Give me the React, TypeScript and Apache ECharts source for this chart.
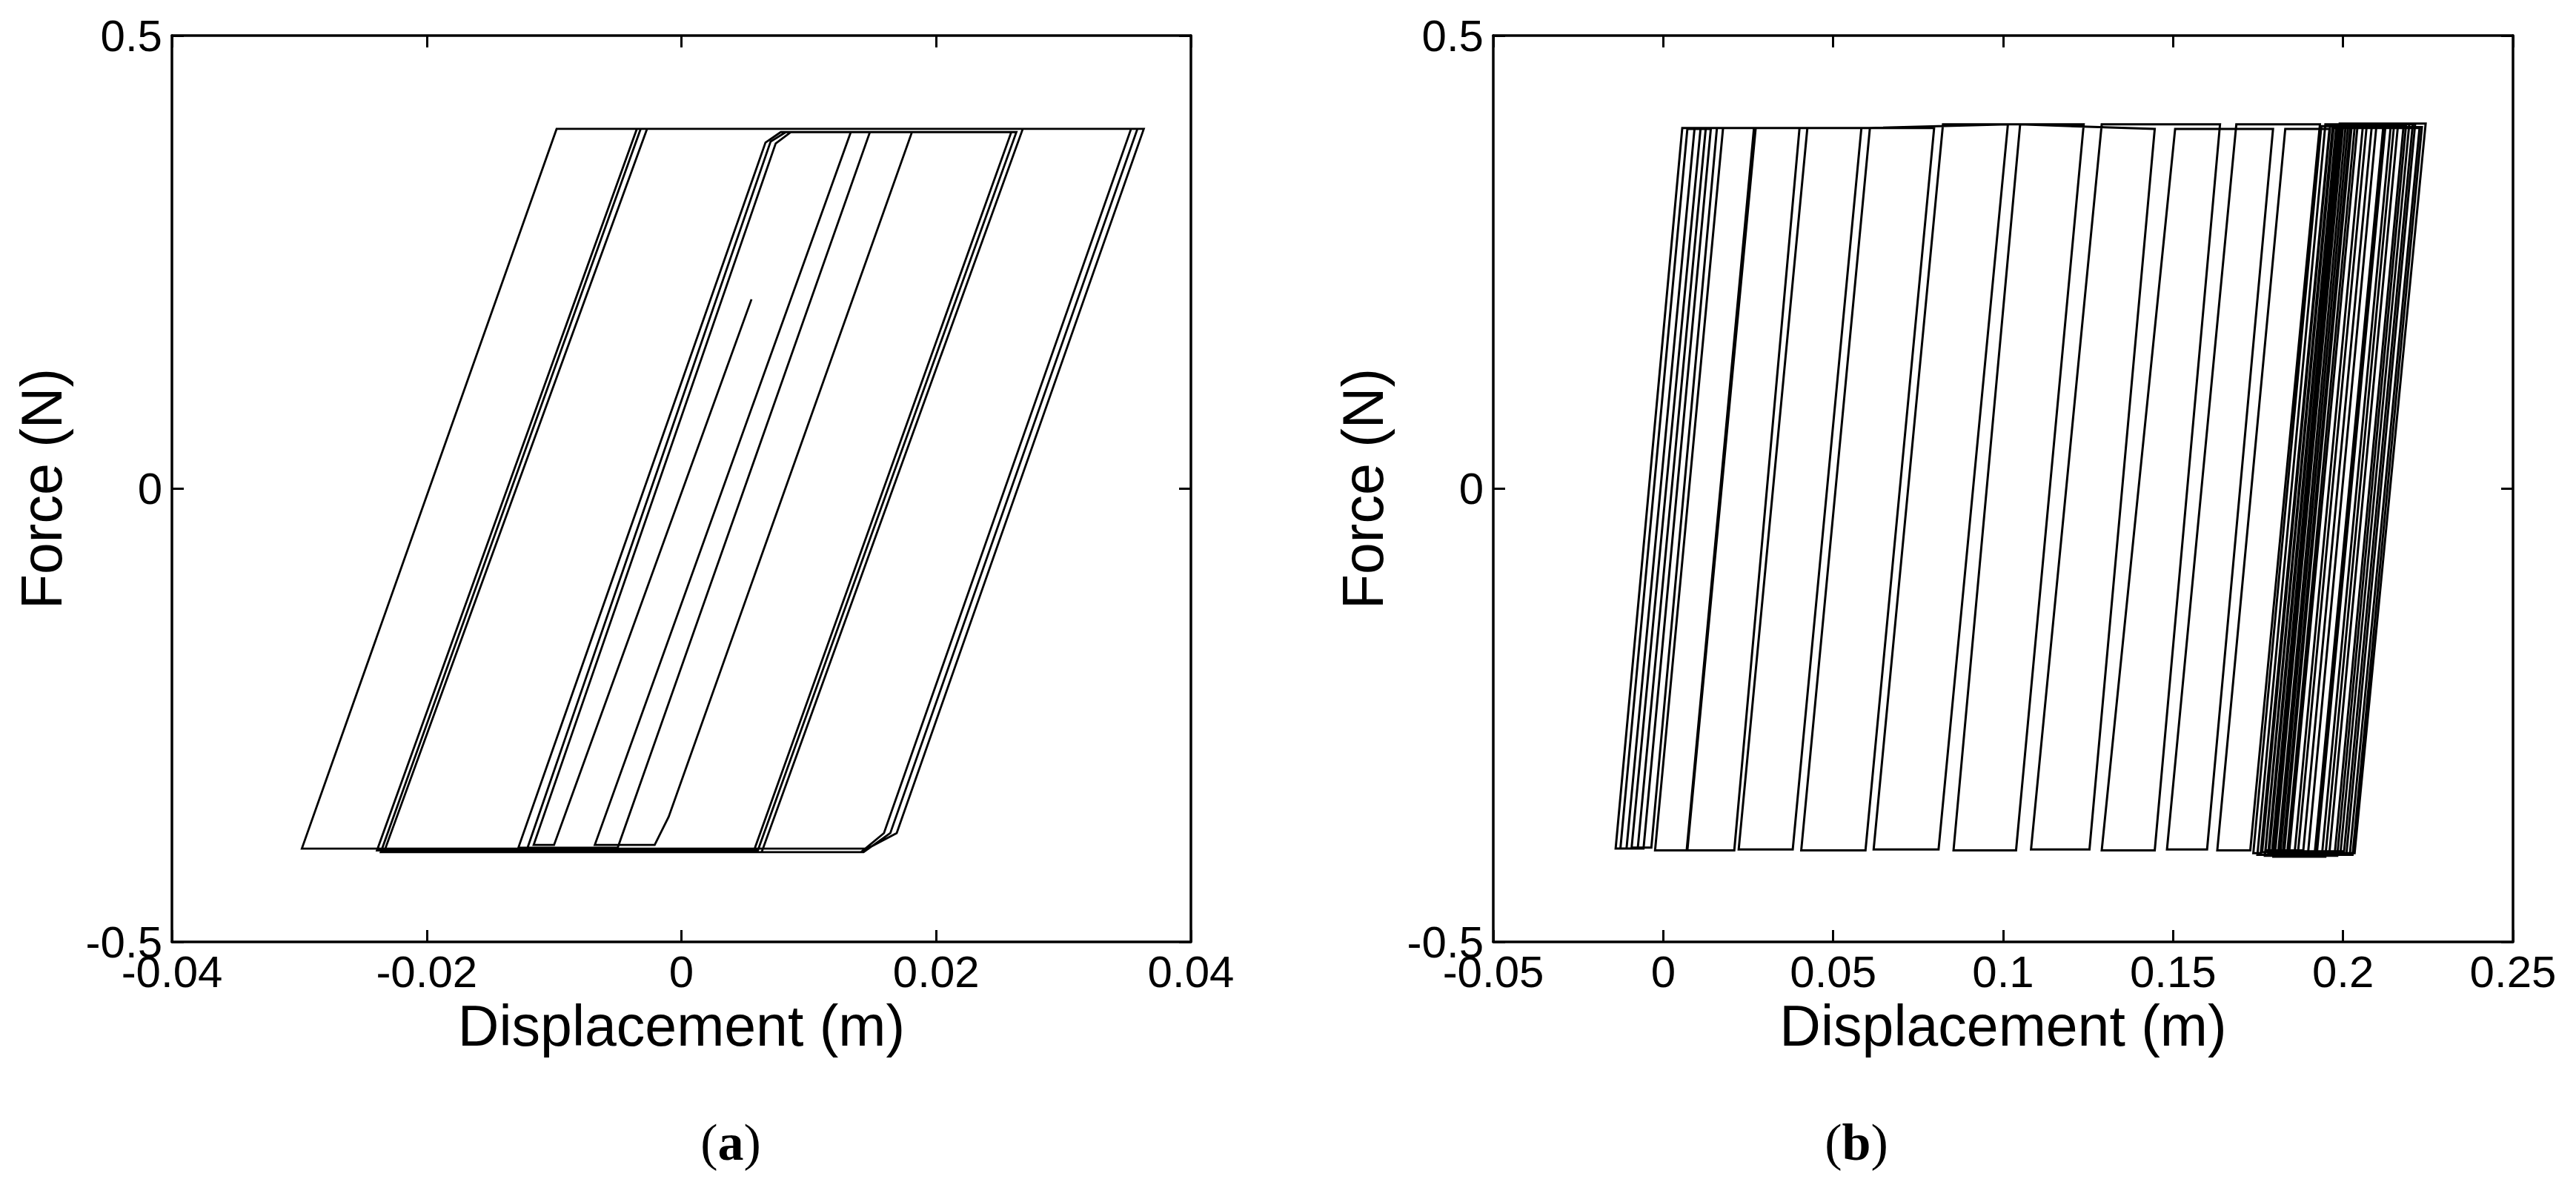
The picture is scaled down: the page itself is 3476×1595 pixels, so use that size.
import React, { useEffect, useRef } from "react";
import * as echarts from "echarts";

// ---------- axes ----------
const xRangeA: [number, number] = [-0.04, 0.04];
const xStepA = 0.02;
const xRangeB: [number, number] = [-0.05, 0.25];
const xStepB = 0.05;
const yRange: [number, number] = [-0.5, 0.5];
const yStep = 0.5;

const xAxisTitle = "Displacement (m)";
const yAxisTitle = "Force (N)";
const panelLetters = ["a", "b"];

// ---------- panel (a): hysteresis path, [displacement (m), force (N)] ----------
const pathA: [number, number][] = [
  [0.0055, 0.209],
  [-0.01, -0.393],
  [-0.0116, -0.393],
  [0.0074, 0.381],
  [0.0086, 0.3935],
  [0.0181, 0.3935],
  [-0.001, -0.362],
  [-0.0021, -0.393],
  [-0.0068, -0.393],
  [0.0133, 0.3935],
  [0.0148, 0.3935],
  [-0.005, -0.396],
  [-0.0128, -0.396],
  [0.0066, 0.382],
  [0.0078, 0.3935],
  [0.0259, 0.3935],
  [0.0057, -0.399],
  [-0.0239, -0.399],
  [-0.0035, 0.397],
  [0.0363, 0.397],
  [0.0169, -0.38],
  [0.0146, -0.397],
  [-0.0298, -0.397],
  [-0.0098, 0.397],
  [0.0358, 0.397],
  [0.0164, -0.38],
  [0.0143, -0.401],
  [-0.0236, -0.401],
  [-0.0032, 0.397],
  [0.0268, 0.397],
  [0.0063, -0.401],
  [-0.0122, -0.401],
  [0.007, 0.383],
  [0.0082, 0.3935],
  [0.0263, 0.3935],
  [0.006, -0.399],
  [-0.0233, -0.399],
  [-0.0027, 0.397],
  [0.0353, 0.397],
  [0.0159, -0.38],
  [0.0141, -0.401],
  [0.008, -0.401],
];

// ---------- panel (b): first cycles around the origin ----------
const pathBStart: [number, number][] = [
  [-0.0108, -0.397],
  [0.0092, 0.397],
  [0.014, 0.397],
  [-0.0058, -0.397],
  [-0.0126, -0.397],
  [0.0071, 0.397],
  [0.0125, 0.397],
  [-0.0075, -0.397],
  [-0.014, -0.397],
  [0.0056, 0.398],
  [0.0158, 0.398],
  [-0.0035, -0.396],
  [-0.0093, -0.396],
  [0.011, 0.398],
  [0.0267, 0.398],
  [0.0069, -0.399],
  [-0.0024, -0.399],
  [0.0176, 0.398],
  [0.0401, 0.398],
  [0.0209, -0.399],
  [0.0071, -0.399],
];

// ---------- panel (b): drifting cycles ----------
const pathBDrift: [number, number][] = [
  [0.0272, 0.398],
  [0.0583, 0.398],
  [0.0381, -0.398],
  [0.0222, -0.398],
  [0.0424, 0.398],
  [0.0797, 0.398],
  [0.0595, -0.399],
  [0.0406, -0.399],
  [0.0608, 0.398],
  [0.1014, 0.402],
  [0.081, -0.398],
  [0.0619, -0.398],
  [0.0823, 0.402],
  [0.1237, 0.402],
  [0.1038, -0.399],
  [0.0854, -0.399],
  [0.105, 0.402],
  [0.1446, 0.397],
  [0.1254, -0.398],
  [0.1082, -0.398],
  [0.129, 0.402],
  [0.1638, 0.402],
  [0.1446, -0.399],
  [0.129, -0.399],
  [0.1506, 0.397],
  [0.1794, 0.397],
  [0.16, -0.398],
  [0.1482, -0.398],
  [0.1686, 0.402],
  [0.1932, 0.402],
  [0.1727, -0.399],
  [0.163, -0.399],
  [0.183, 0.397],
];

// ---------- panel (b): dense cycles near 0.2 m ----------
const pathBCluster: [number, number][] = [
  [0.196, 0.397],
  [0.1758, -0.402],
  [0.1736, -0.402],
  [0.1936, 0.4],
  [0.2025, 0.4],
  [0.1823, -0.404],
  [0.1748, -0.404],
  [0.1948, 0.402],
  [0.207, 0.402],
  [0.1868, -0.399],
  [0.1772, -0.399],
  [0.1972, 0.398],
  [0.2118, 0.398],
  [0.1916, -0.405],
  [0.179, -0.405],
  [0.199, 0.403],
  [0.2162, 0.403],
  [0.196, -0.401],
  [0.1762, -0.401],
  [0.1962, 0.4],
  [0.2098, 0.4],
  [0.1896, -0.406],
  [0.1808, -0.406],
  [0.2008, 0.402],
  [0.2205, 0.402],
  [0.2003, -0.4],
  [0.1783, -0.4],
  [0.1983, 0.399],
  [0.214, 0.399],
  [0.1938, -0.404],
  [0.1826, -0.404],
  [0.2026, 0.403],
  [0.2243, 0.403],
  [0.2034, -0.402],
  [0.18, -0.402],
  [0.2, 0.4],
  [0.2185, 0.4],
  [0.1983, -0.405],
  [0.177, -0.405],
  [0.197, 0.402],
  [0.2085, 0.402],
  [0.1883, -0.399],
  [0.1842, -0.399],
  [0.2042, 0.398],
  [0.2225, 0.398],
  [0.202, -0.403],
  [0.1815, -0.403],
  [0.2015, 0.401],
  [0.215, 0.401],
  [0.1948, -0.406],
  [0.1795, -0.406],
  [0.1995, 0.403],
  [0.2195, 0.403],
  [0.1993, -0.4],
  [0.1858, -0.4],
  [0.2058, 0.399],
  [0.2232, 0.399],
  [0.2028, -0.404],
  [0.1822, -0.404],
  [0.2022, 0.401],
  [0.2125, 0.401],
  [0.1923, -0.402],
  [0.178, -0.402],
  [0.198, 0.4],
  [0.2178, 0.4],
  [0.1975, -0.405],
  [0.1835, -0.405],
  [0.2035, 0.402],
  [0.2212, 0.402],
  [0.201, -0.403],
  [0.19, -0.403],
];

const pathB: [number, number][] = [...pathBStart, ...pathBDrift, ...pathBCluster];

// ---------- layout ----------
const SANS = "'Liberation Sans', Arial, Helvetica, sans-serif";
const SERIF = "'Liberation Serif', 'Times New Roman', serif";
const grids = [
  { left: 232, top: 48, width: 1375, height: 1223 },
  { left: 2015, top: 48, width: 1376, height: 1223 },
];
const captionPos = [
  [986, 1541],
  [2505, 1541],
];

const fmt = (v: number) => String(Math.round(v * 1000) / 1000);

const axisLine = { show: true, onZero: false, lineStyle: { color: "#000", width: 3.5 } };
const axisTick = { show: true, inside: true, length: 16, lineStyle: { color: "#000", width: 3 } };

function xAxes(grid: number, range: [number, number], step: number) {
  const base = {
    gridIndex: grid,
    type: "value",
    min: range[0],
    max: range[1],
    interval: step,
    axisLine,
    axisTick,
    splitLine: { show: false },
  };
  return [
    {
      ...base,
      position: "bottom",
      axisLabel: {
        show: true,
        margin: 10,
        fontSize: 60,
        fontFamily: SANS,
        color: "#000",
        showMinLabel: true,
        showMaxLabel: true,
        formatter: fmt,
      },
      name: xAxisTitle,
      nameLocation: "middle",
      nameGap: 72,
      nameTextStyle: { fontSize: 77, fontFamily: SANS, color: "#000" },
    },
    { ...base, position: "top", axisLabel: { show: false } },
  ];
}

function yAxes(grid: number) {
  const base = {
    gridIndex: grid,
    type: "value",
    min: yRange[0],
    max: yRange[1],
    interval: yStep,
    axisLine,
    axisTick,
    splitLine: { show: false },
  };
  return [
    {
      ...base,
      position: "left",
      axisLabel: {
        show: true,
        margin: 13,
        fontSize: 60,
        fontFamily: SANS,
        color: "#000",
        showMinLabel: true,
        showMaxLabel: true,
        formatter: fmt,
      },
      name: yAxisTitle,
      nameLocation: "middle",
      nameGap: 138,
      nameRotate: 90,
      nameTextStyle: { fontSize: 77, fontFamily: SANS, color: "#000" },
    },
    { ...base, position: "right", axisLabel: { show: false } },
  ];
}

export default function App() {
  const ref = useRef<HTMLDivElement>(null);

  useEffect(() => {
    if (!ref.current) return;
    const chart = echarts.init(ref.current, undefined, { renderer: "svg" });
    const lineStyle = { color: "#000", width: 2.8, join: "miter" };
    chart.setOption({
      animation: false,
      backgroundColor: "#fff",
      grid: grids,
      xAxis: [...xAxes(0, xRangeA, xStepA), ...xAxes(1, xRangeB, xStepB)],
      yAxis: [...yAxes(0), ...yAxes(1)],
      series: [
        {
          type: "line",
          xAxisIndex: 0,
          yAxisIndex: 0,
          data: pathA,
          symbol: "none",
          showSymbol: false,
          silent: true,
          lineStyle,
        },
        {
          type: "line",
          xAxisIndex: 2,
          yAxisIndex: 2,
          data: pathB,
          symbol: "none",
          showSymbol: false,
          silent: true,
          lineStyle: { ...lineStyle, width: 3 },
        },
      ],
      graphic: panelLetters.map((l, i) => ({
        type: "text",
        x: captionPos[i][0],
        y: captionPos[i][1],
        silent: true,
        style: {
          text: `({b|${l}})`,
          fontFamily: SERIF,
          fontSize: 70,
          fill: "#000",
          align: "center",
          verticalAlign: "middle",
          rich: {
            b: { fontFamily: SERIF, fontSize: 70, fontWeight: "bold", fill: "#000" },
          },
        },
      })),
    });
    return () => chart.dispose();
  }, []);

  return (
    <div
      ref={ref}
      style={{ position: "absolute", left: 0, top: 0, width: 3476, height: 1595, background: "#fff" }}
    />
  );
}
